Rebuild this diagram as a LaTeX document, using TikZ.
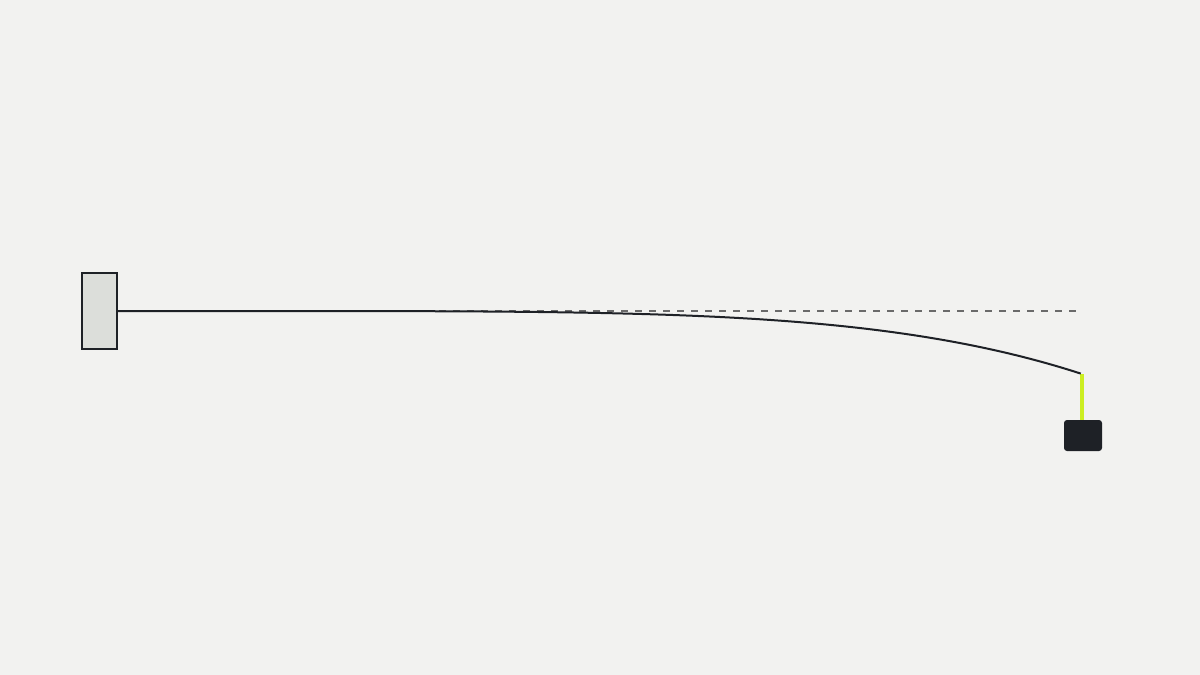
\documentclass[tikz,border=0pt]{standalone}
\definecolor{bg}{HTML}{F2F2F0}
\definecolor{wallfill}{HTML}{DCDEDA}
\definecolor{ink}{HTML}{1E2126}
\definecolor{limeg}{HTML}{CCEE22}
\definecolor{dashg}{HTML}{6A6A6A}
\tikzset{
  wallbox/.style={draw=ink, fill=wallfill, line width=2pt, minimum width=35pt, minimum height=76pt, inner sep=0pt, outer sep=0pt},
  massbox/.style={fill=ink, rounded corners=3pt, minimum width=38pt, minimum height=31pt, inner sep=0pt, outer sep=0pt},
  beamline/.style={draw=ink, line width=2pt},
  refline/.style={draw=dashg, line width=1.5pt, dash pattern=on 7pt off 7pt},
  hanger/.style={draw=limeg, line width=3.5pt}
}
\begin{document}
\begin{tikzpicture}[x=1pt,y=-1pt]
\fill[bg] (0,0) rectangle (1200,675);
\useasboundingbox (0,0) rectangle (1200,675);
\node[wallbox] (wall) at (99.5,311) {};
\coordinate (root) at (117,311);
\coordinate (tip) at (1082,374);
\coordinate (dend) at (1076,311);
\node[massbox] (mass) at (1083,435.5) {};
\draw[refline] (root) -- (dend);
\draw[hanger] (tip) -- (mass.north -| tip);
\draw[beamline] plot[domain=0:1, samples=120, smooth] ({117+965*\x},{311+63*(\x)^5});
\end{tikzpicture}
\end{document}
